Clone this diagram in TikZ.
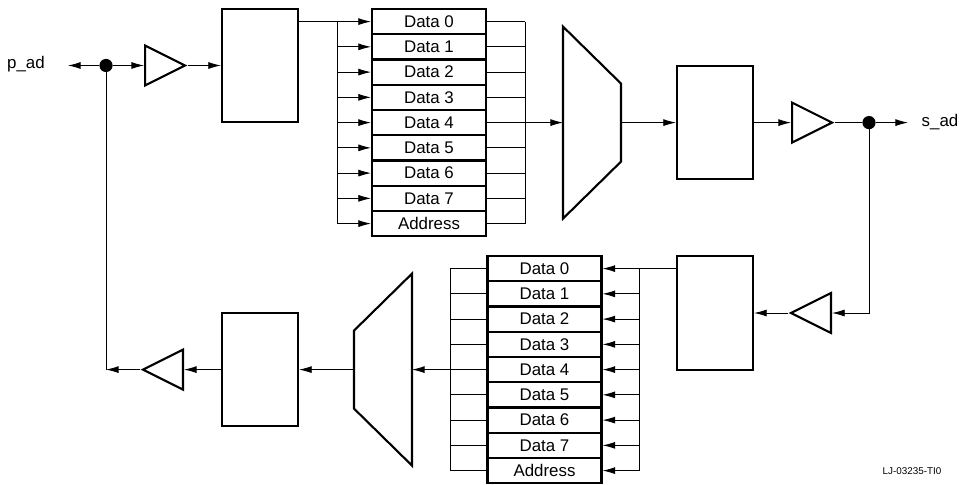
\documentclass[tikz,border=0pt]{standalone}
\usepackage{fontspec}
\setmainfont{Liberation Sans}
\usetikzlibrary{arrows.meta,shapes.geometric}

\tikzset{
  blk/.style={draw,line width=1.5pt,minimum width=1.9cm,minimum height=2.83cm},
  regrow/.style={draw,line width=1.5pt,minimum width=2.85cm,minimum height=0.63125cm,inner sep=0pt,font=\large},
  buf/.style={draw,line width=1.5pt,isosceles triangle,isosceles triangle stretches,minimum width=1cm,minimum height=1cm,inner sep=0pt},
  wire/.style={line width=0.6pt},
  junc/.style={circle,fill,minimum size=0.33cm,inner sep=0pt},
  lbl/.style={font=\large,inner sep=0pt}
}

\begin{document}
\begin{tikzpicture}[x=0.025cm,y=-0.025cm,>={Latex[length=9pt,width=5pt]}]
  \useasboundingbox (0,0) rectangle (970,485);

  % top path
  \node[lbl] (pad) at (26,64) {p\_ad};
  \node[junc] (j1) at (106,65.5) {};
  \node[buf,anchor=west] (buf1) at (144,65.5) {};
  \node[blk] (box1) at (260,65.5) {};
  \foreach \i in {0,...,7}
    \node[regrow] (up\i) at (429,21.6+25.25*\i) {Data \i};
  \node[regrow] (up8) at (429,21.6+25.25*8) {Address};
  \coordinate (tbusl) at (337,0);
  \coordinate (tbusr) at (525,0);
  \coordinate (mux1in) at (563,122.6);
  \coordinate (mux1out) at (621,122.6);
  \draw[line width=1.5pt] (mux1in) ++(0,-96) -- ++(58,57) -- ++(0,78) -- ++(-58,57) -- cycle;
  \node[blk] (box2) at (715,122.6) {};
  \node[buf,anchor=west] (buf2) at (791,122.6) {};
  \node[junc] (j2) at (869,122.6) {};
  \node[lbl] (sad) at (940,122) {s\_ad};
  \coordinate (padtip) at (68,65.5);
  \coordinate (sadtip) at (908,122.6);

  % bottom path
  \node[blk] (box3) at (715,313) {};
  \node[buf,shape border rotate=180,anchor=east] (buf3) at (832,313) {};
  \foreach \i in {0,...,7}
    \node[regrow] (dn\i) at (544.5,268.6+25.25*\i) {Data \i};
  \node[regrow] (dn8) at (544.5,268.6+25.25*8) {Address};
  \coordinate (bbusr) at (639,0);
  \coordinate (bbusl) at (450,0);
  \coordinate (mux2in) at (412,369.6);
  \coordinate (mux2out) at (354,369.6);
  \draw[line width=1.5pt] (mux2in) ++(0,-96) -- ++(0,192) -- ++(-58,-57) -- ++(0,-78) -- cycle;
  \node[blk] (box4) at (260,369.6) {};
  \node[buf,shape border rotate=180,anchor=east] (buf4) at (184,369.6) {};
  \coordinate (corner) at (106,369.6);

  \node[font=\scriptsize,inner sep=0pt] (tag) at (912,471) {LJ-03235-TI0};

  % wires, top
  \draw[wire,->] (j1) -- (padtip);
  \draw[wire,->] (j1) -- (buf1.west);
  \draw[wire,->] (buf1.apex) -- (box1.west);
  \draw[wire,->] (box1.east |- up0) -- (up0.west);
  \draw[wire] (tbusl |- up0) -- (tbusl |- up8);
  \foreach \i in {1,...,8}
    \draw[wire,->] (tbusl |- up\i) -- (up\i.west);
  \foreach \i in {0,1,2,3,5,6,7,8}
    \draw[wire] (up\i.east) -- (tbusr |- up\i);
  \draw[wire] (tbusr |- up0) -- (tbusr |- up8);
  \draw[wire,->] (up4.east) -- (mux1in);
  \draw[wire,->] (mux1out) -- (box2.west);
  \draw[wire,->] (box2.east) -- (buf2.west);
  \draw[wire] (buf2.apex) -- (j2);
  \draw[wire,->] (j2) -- (sadtip);

  % wires, bottom
  \draw[wire,->] (j2) |- (buf3.east);
  \draw[wire,->] (buf3.apex) -- (box3.east);
  \draw[wire,->] (box3.west |- dn0) -- (dn0.east);
  \draw[wire] (bbusr |- dn0) -- (bbusr |- dn8);
  \foreach \i in {1,...,8}
    \draw[wire,->] (bbusr |- dn\i) -- (dn\i.east);
  \foreach \i in {0,1,2,3,5,6,7,8}
    \draw[wire] (dn\i.west) -- (bbusl |- dn\i);
  \draw[wire] (bbusl |- dn0) -- (bbusl |- dn8);
  \draw[wire,->] (dn4.west) -- (mux2in);
  \draw[wire,->] (mux2out) -- (box4.east);
  \draw[wire,->] (box4.west) -- (buf4.east);
  \draw[wire,->] (buf4.apex) -- (corner);
  \draw[wire] (j1) -- (corner);
\end{tikzpicture}
\end{document}
